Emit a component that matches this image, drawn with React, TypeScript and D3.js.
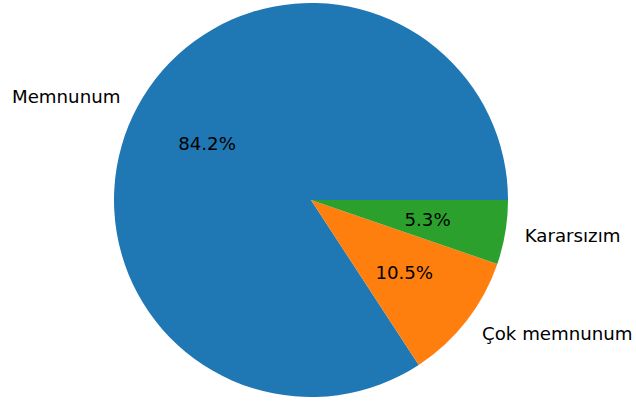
import React, { useEffect, useRef } from "react";
import * as d3 from "d3";

const labels = ["Memnunum", "Çok memnunum", "Kararsızım"];
const counts = [16, 2, 1];
const colors = ["#1f77b4", "#ff7f0e", "#2ca02c"];

const width = 636;
const height = 401;
const cx = 311;
const cy = 200;
const radius = 197;

export default function App() {
  const ref = useRef<SVGSVGElement | null>(null);

  useEffect(() => {
    const svg = d3.select(ref.current);
    svg.selectAll("*").remove();

    const total = d3.sum(counts);
    // matplotlib style: start at 3 o'clock, go counter-clockwise
    const pie = d3
      .pie<number>()
      .sort(null)
      .startAngle(Math.PI / 2)
      .endAngle(Math.PI / 2 - 2 * Math.PI);
    const arcs = pie(counts);
    const arc = d3.arc<d3.PieArcDatum<number>>().innerRadius(0).outerRadius(radius);

    const g = svg.append("g").attr("transform", `translate(${cx},${cy})`);

    g.selectAll("path")
      .data(arcs)
      .enter()
      .append("path")
      .attr("d", arc)
      .attr("fill", (d, i) => colors[i]);

    const font = "DejaVu Sans, sans-serif";

    arcs.forEach((d, i) => {
      const mid = (d.startAngle + d.endAngle) / 2;
      const sx = Math.sin(mid);
      const sy = -Math.cos(mid);

      g.append("text")
        .attr("x", 1.1 * radius * sx)
        .attr("y", 1.1 * radius * sy)
        .attr("text-anchor", sx > 0 ? "start" : "end")
        .attr("dominant-baseline", "central")
        .style("font-family", font)
        .style("font-size", "18.2px")
        .attr("fill", "#000")
        .text(labels[i]);

      g.append("text")
        .attr("x", 0.6 * radius * sx)
        .attr("y", 0.6 * radius * sy)
        .attr("text-anchor", "middle")
        .attr("dominant-baseline", "central")
        .style("font-family", font)
        .style("font-size", "18.2px")
        .attr("fill", "#000")
        .text(((counts[i] / total) * 100).toFixed(1) + "%");
    });
  }, []);

  return (
    <svg
      ref={ref}
      width={width}
      height={height}
      style={{ position: "absolute", left: 0, top: 0, background: "#fff" }}
    />
  );
}
